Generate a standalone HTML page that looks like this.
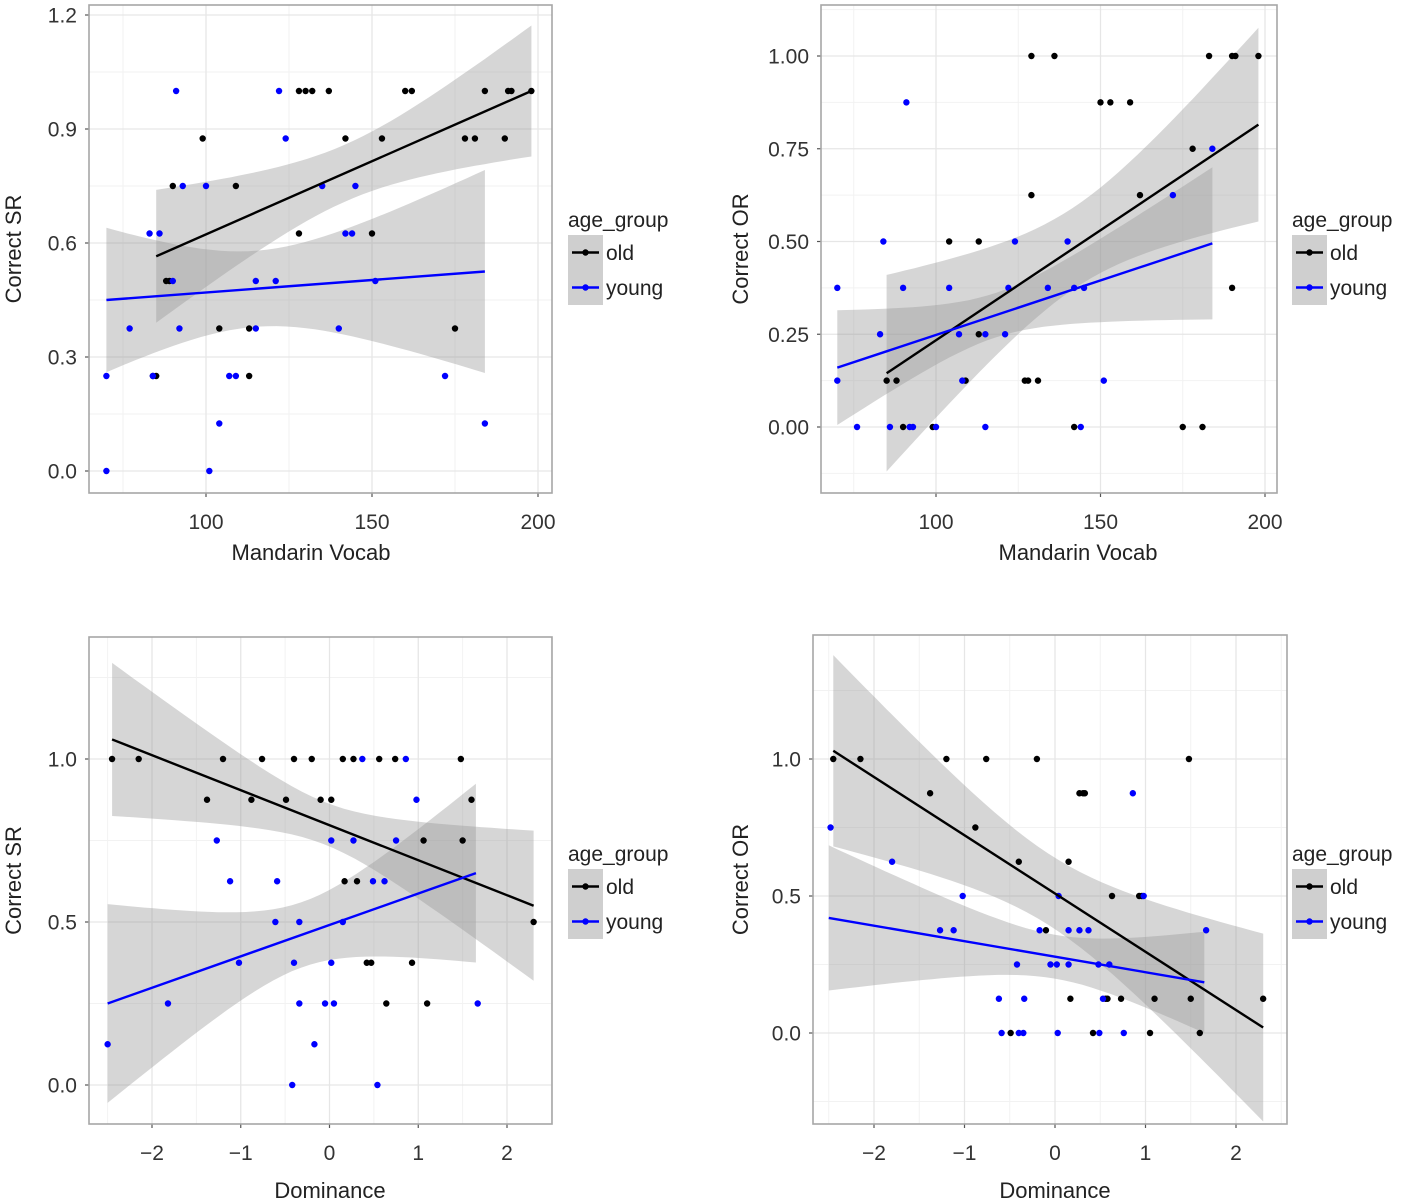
<!DOCTYPE html>
<html><head><meta charset="utf-8">
<style>
html,body{margin:0;padding:0;background:#fff;}
svg{display:block;font-family:"Liberation Sans",Arial,sans-serif;}
</style></head>
<body>
<svg id="fig" width="1405" height="1204" viewBox="0 0 1405 1204"></svg>
<script>
// ---------- Panel 1: Correct SR vs Mandarin Vocab ----------
const p1OldX=[128,130,132,137,160,162,184,191,192,198,99,142,153,178,181,190,90,109,128,150,88,89,104,113,175,84,85,113];
const p1OldY=[1,1,1,1,1,1,1,1,1,1,0.875,0.875,0.875,0.875,0.875,0.875,0.75,0.75,0.625,0.625,0.5,0.5,0.375,0.375,0.375,0.25,0.25,0.25];
const p1YoungX=[91,122,124,93,100,135,145,83,86,142,144,90,115,121,151,77,92,115,140,70,84,107,109,172,104,184,70,101];
const p1YoungY=[1,1,0.875,0.75,0.75,0.75,0.75,0.625,0.625,0.625,0.625,0.5,0.5,0.5,0.5,0.375,0.375,0.375,0.375,0.25,0.25,0.25,0.25,0.25,0.125,0.125,0,0];
const p1OldFit=[85,198,0.565,1.0];
const p1OldCI=[0.075,142,0.00277];
const p1YoungFit=[70,184,0.45,0.525];
const p1YoungCI=[0.1,115,0.00359];
const p1XTicks=[100,150,200];
const p1XTickLabels=["100","150","200"];
const p1YTicks=[0,0.3,0.6,0.9,1.2];
const p1YTickLabels=["0.0","0.3","0.6","0.9","1.2"];

// ---------- Panel 2: Correct OR vs Mandarin Vocab ----------
const p2OldX=[129,136,183,190,191,198,150,153,159,178,129,162,104,113,190,85,88,109,127,128,131,90,99,142,175,181,113];
const p2OldY=[1,1,1,1,1,1,0.875,0.875,0.875,0.75,0.625,0.625,0.5,0.5,0.375,0.125,0.125,0.125,0.125,0.125,0.125,0,0,0,0,0,0.25];
const p2YoungX=[91,184,172,84,124,140,70,90,104,122,134,142,145,83,107,115,121,70,108,151,76,86,92,93,100,115,144];
const p2YoungY=[0.875,0.75,0.625,0.5,0.5,0.5,0.375,0.375,0.375,0.375,0.375,0.375,0.375,0.25,0.25,0.25,0.25,0.125,0.125,0.125,0,0,0,0,0,0,0];
const p2OldFit=[85,198,0.145,0.815];
const p2OldCI=[0.11,142,0.00423];
const p2YoungFit=[70,184,0.16,0.495];
const p2YoungCI=[0.06,118,0.00297];
const p2XTicks=[100,150,200];
const p2XTickLabels=["100","150","200"];
const p2YTicks=[0,0.25,0.5,0.75,1];
const p2YTickLabels=["0.00","0.25","0.50","0.75","1.00"];

// ---------- Panel 3: Correct SR vs Dominance ----------
const p3OldX=[-2.45,-2.15,-1.2,-0.76,-0.4,-0.2,0.15,0.27,0.56,0.74,1.48,-1.38,-0.88,-0.49,-0.1,0.02,1.6,1.06,1.5,0.17,0.31,2.3,0.42,0.47,0.93,0.64,1.1];
const p3OldY=[1,1,1,1,1,1,1,1,1,1,1,0.875,0.875,0.875,0.875,0.875,0.875,0.75,0.75,0.625,0.625,0.5,0.375,0.375,0.375,0.25,0.25];
const p3YoungX=[0.37,0.86,0.98,-1.27,0.02,0.27,0.75,-1.12,-0.59,0.49,0.62,-0.61,-0.34,0.15,-1.02,-0.4,0.02,-1.82,-0.34,-0.05,0.05,1.67,-2.5,-0.17,-0.42,0.54];
const p3YoungY=[1,1,0.875,0.75,0.75,0.75,0.75,0.625,0.625,0.625,0.625,0.5,0.5,0.5,0.375,0.375,0.375,0.25,0.25,0.25,0.25,0.25,0.125,0.125,0,0];
const p3OldFit=[-2.45,2.3,1.06,0.55];
const p3OldCI=[0.065,-0.05,0.094];
const p3YoungFit=[-2.5,1.65,0.25,0.65];
const p3YoungCI=[0.1,-0.3,0.131];
const p3XTicks=[-2,-1,0,1,2];
const p3XTickLabels=["\u22122","\u22121","0","1","2"];
const p3YTicks=[0,0.5,1];
const p3YTickLabels=["0.0","0.5","1.0"];

// ---------- Panel 4: Correct OR vs Dominance ----------
const p4OldX=[-2.45,-2.15,-1.2,-0.76,-0.2,1.48,-1.38,0.27,0.31,0.33,-0.88,-0.4,0.15,0.63,0.93,0.96,-0.1,0.17,0.56,0.58,0.73,1.1,1.5,2.3,-0.49,0.42,1.05,1.6];
const p4OldY=[1,1,1,1,1,1,0.875,0.875,0.875,0.875,0.75,0.625,0.625,0.5,0.5,0.5,0.375,0.125,0.125,0.125,0.125,0.125,0.125,0.125,0,0,0,0];
const p4YoungX=[0.86,-2.48,-1.8,-1.02,0.04,0.98,-1.27,-1.12,-0.17,0.15,0.27,0.37,1.67,-0.42,-0.05,0.02,0.15,0.48,0.6,-0.62,-0.34,0.53,-0.59,-0.4,-0.35,0.03,0.49,0.76];
const p4YoungY=[0.875,0.75,0.625,0.5,0.5,0.5,0.375,0.375,0.375,0.375,0.375,0.375,0.375,0.25,0.25,0.25,0.25,0.25,0.25,0.125,0.125,0.125,0,0,0,0,0,0];
const p4OldFit=[-2.45,2.3,1.03,0.02];
const p4OldCI=[0.13,-0.05,0.135];
const p4YoungFit=[-2.5,1.65,0.42,0.185];
const p4YoungCI=[0.08,0,0.101];
const p4XTicks=[-2,-1,0,1,2];
const p4XTickLabels=["\u22122","\u22121","0","1","2"];
const p4YTicks=[0,0.5,1];
const p4YTickLabels=["0.0","0.5","1.0"];

const NS="http://www.w3.org/2000/svg";
const svg=document.getElementById('fig');
function mk(tag,attrs,parent){const e=document.createElementNS(NS,tag);for(const k in attrs)e.setAttribute(k,attrs[k]);(parent||svg).appendChild(e);return e;}

function panel(cfg){
  const g=mk('g',{});
  
  
  const L=cfg.box[0],R=cfg.box[1],T=cfg.box[2],B=cfg.box[3];
  const xs=v=>cfg.xa[0]+(v-cfg.xa[1])*(cfg.xa[2]-cfg.xa[0])/(cfg.xa[3]-cfg.xa[1]);
  const ys=v=>cfg.ya[0]+(v-cfg.ya[1])*(cfg.ya[2]-cfg.ya[0])/(cfg.ya[3]-cfg.ya[1]);
  const bg=mk('rect',{x:L,y:T,width:R-L,height:B-T,fill:'#fff'},g);
  
  
  const xt=cfg.xticks,yt=cfg.yticks;
  const dx=xt[1]-xt[0],dy=yt[1]-yt[0];
  for(let v=xt[0]-dx*1.5;v<=xt[xt.length-1]+dx*1.5;v+=dx){const p=xs(v);if(p>L&&p<R){const l=mk('line',{x1:p,x2:p,y1:T,y2:B,stroke:'#f2f2f2','stroke-width':1},g);}}
  for(let v=yt[0]-dy*1.5;v<=yt[yt.length-1]+dy*1.5;v+=dy){const p=ys(v);if(p>T&&p<B){const l=mk('line',{x1:L,x2:R,y1:p,y2:p,stroke:'#f2f2f2','stroke-width':1},g);}}
  xt.forEach((v,i)=>{const p=xs(v);
    const l=mk('line',{x1:p,x2:p,y1:T,y2:B,stroke:'#e6e6e6','stroke-width':1.3},g);
    
    const tk=mk('line',{x1:p,x2:p,y1:B,y2:B+4,stroke:'#555','stroke-width':1.2},g);
    
    const t=mk('text',{x:p,y:B+36,'text-anchor':'middle','font-size':21,fill:'#333'},g);t.textContent=cfg.xlabels[i];
    });
  yt.forEach((v,i)=>{const p=ys(v);
    const l=mk('line',{x1:L,x2:R,y1:p,y2:p,stroke:'#e6e6e6','stroke-width':1.3},g);
    
    const tk=mk('line',{x1:L-4,x2:L,y1:p,y2:p,stroke:'#555','stroke-width':1.2},g);
    
    const t=mk('text',{x:L-12,y:p+7.5,'text-anchor':'end','font-size':21,fill:'#333'},g);t.textContent=cfg.ylabels[i];
    });
  const clip='clip'+cfg.name;
  const cp=mk('clipPath',{id:clip},g);mk('rect',{x:L,y:T,width:R-L,height:B-T},cp);
  [['old',cfg.oldFit,cfg.oldCI],['young',cfg.youngFit,cfg.youngCI]].forEach(([nm,f,ci])=>{
    const up=[],lo=[];
    for(let k=0;k<=40;k++){const x=f[0]+(f[1]-f[0])*k/40;const y=f[2]+(f[3]-f[2])*(x-f[0])/(f[1]-f[0]);
      const hw=Math.sqrt(ci[0]*ci[0]+ci[2]*ci[2]*(x-ci[1])*(x-ci[1]));
      up.push(xs(x).toFixed(1)+','+ys(y+hw).toFixed(1));lo.unshift(xs(x).toFixed(1)+','+ys(y-hw).toFixed(1));}
    const r=mk('polygon',{points:up.concat(lo).join(' '),fill:'#999','fill-opacity':0.4,'clip-path':'url(#'+clip+')'},g);
    
  });
  [['old',cfg.oldX,cfg.oldY,'#000'],['young',cfg.youngX,cfg.youngY,'#0000ff']].forEach(([nm,X,Y,c])=>{
    X.forEach((x,i)=>{const d=mk('circle',{cx:xs(x),cy:ys(Y[i]),r:3.2,fill:c},g);
      });
  });
  [['old',cfg.oldFit,'#000'],['young',cfg.youngFit,'#0000ff']].forEach(([nm,f,c])=>{
    const l=mk('line',{x1:xs(f[0]),y1:ys(f[2]),x2:xs(f[1]),y2:ys(f[3]),stroke:c,'stroke-width':2.4},g);
    
  });
  const br=mk('rect',{x:L,y:T,width:R-L,height:B-T,fill:'none',stroke:'#a6a6a6','stroke-width':1.6},g);
  
  const xtl=mk('text',{x:cfg.xtitleX,y:cfg.xtitleY,'text-anchor':'middle','font-size':22,fill:'#222'},g);xtl.textContent=cfg.xtitle;
  
  const yc=(T+B)/2;
  const ytl=mk('text',{x:cfg.ytitleX,y:yc,'text-anchor':'middle','font-size':22,fill:'#222',transform:'rotate(-90 '+cfg.ytitleX+' '+yc+')'},g);ytl.textContent=cfg.ytitle;
  
  const lx=cfg.leg[0],ly=cfg.leg[1];
  const lg=mk('g',{},g);
  const lt=mk('text',{x:lx,y:ly,'font-size':21,fill:'#222'},lg);lt.textContent='age_group';
  
  [['old','#000',0],['young','#0000ff',1]].forEach(([nm,c,i])=>{
    const ky=ly+8+i*35;
    const kb=mk('rect',{x:lx,y:ky,width:35,height:35,fill:'#cfcfcf'},lg);
    
    const kl=mk('line',{x1:lx+4,x2:lx+31,y1:ky+17.5,y2:ky+17.5,stroke:c,'stroke-width':2.4},lg);
    
    const kd=mk('circle',{cx:lx+17.5,cy:ky+17.5,r:3.2,fill:c},lg);
    
    const tx=mk('text',{x:lx+38,y:ky+25,'font-size':21,fill:'#222'},lg);tx.textContent=nm;
    
  });
}

panel({name:'panel-sr-vocab',box:[89,552,5,493],xa:[206,100,538,200],ya:[471,0,15,1.2],
  xticks:p1XTicks,xlabels:p1XTickLabels,yticks:p1YTicks,ylabels:p1YTickLabels,
  oldX:p1OldX,oldY:p1OldY,youngX:p1YoungX,youngY:p1YoungY,oldFit:p1OldFit,oldCI:p1OldCI,youngFit:p1YoungFit,youngCI:p1YoungCI,
  xtitle:'Mandarin Vocab',xtitleX:311,xtitleY:560,ytitle:'Correct SR',ytitleX:21,leg:[568,227]});
panel({name:'panel-or-vocab',box:[821,1277,5,493],xa:[936,100,1265,200],ya:[427,0,56,1],
  xticks:p2XTicks,xlabels:p2XTickLabels,yticks:p2YTicks,ylabels:p2YTickLabels,
  oldX:p2OldX,oldY:p2OldY,youngX:p2YoungX,youngY:p2YoungY,oldFit:p2OldFit,oldCI:p2OldCI,youngFit:p2YoungFit,youngCI:p2YoungCI,
  xtitle:'Mandarin Vocab',xtitleX:1078,xtitleY:560,ytitle:'Correct OR',ytitleX:748,leg:[1292,227]});
panel({name:'panel-sr-dominance',box:[89,552,637,1124],xa:[152,-2,507,2],ya:[1085,0,759,1],
  xticks:p3XTicks,xlabels:p3XTickLabels,yticks:p3YTicks,ylabels:p3YTickLabels,
  oldX:p3OldX,oldY:p3OldY,youngX:p3YoungX,youngY:p3YoungY,oldFit:p3OldFit,oldCI:p3OldCI,youngFit:p3YoungFit,youngCI:p3YoungCI,
  xtitle:'Dominance',xtitleX:330,xtitleY:1198,ytitle:'Correct SR',ytitleX:21,leg:[568,861]});
panel({name:'panel-or-dominance',box:[813,1287,635,1124],xa:[874,-2,1236,2],ya:[1033,0,759,1],
  xticks:p4XTicks,xlabels:p4XTickLabels,yticks:p4YTicks,ylabels:p4YTickLabels,
  oldX:p4OldX,oldY:p4OldY,youngX:p4YoungX,youngY:p4YoungY,oldFit:p4OldFit,oldCI:p4OldCI,youngFit:p4YoungFit,youngCI:p4YoungCI,
  xtitle:'Dominance',xtitleX:1055,xtitleY:1198,ytitle:'Correct OR',ytitleX:748,leg:[1292,861]});
</script>
</body></html>
